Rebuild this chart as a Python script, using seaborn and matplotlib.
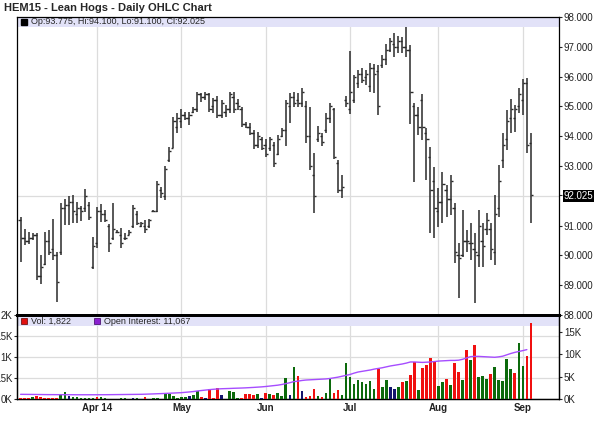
import numpy as np
import pandas as pd
import matplotlib
matplotlib.use('Agg')
import matplotlib.pyplot as plt
from matplotlib.patches import Rectangle
import seaborn as sns

# daily sessions Mar 5 - Sep 4 (128 bars)
holidays = ['2014-04-18', '2014-05-26', '2014-07-04', '2014-09-01']
dates = pd.bdate_range('2014-03-05', '2014-09-04', freq='C', holidays=holidays)

opens = [91.2, 90.6, 90.5, 90.6, 90.7, 89.3, 89.7, 90.5, 90.2, 90.0,
         90.1, 91.6, 91.7, 91.8, 91.4, 91.6, 91.6, 91.7, 89.6, 90.4,
         91.5, 91.4, 91.0, 90.6, 90.8, 90.7, 90.6, 90.7, 91.0, 91.4,
         91.0, 91.0, 91.0, 91.5, 91.5, 92.2, 92.0, 93.2, 93.6, 94.3,
         94.5, 94.7, 94.6, 94.8, 94.9, 95.4, 95.3, 95.4, 95.0, 95.2,
         94.7, 94.8, 94.9, 95.3, 95.1, 94.9, 94.4, 94.3, 94.1, 93.7,
         93.9, 93.7, 93.6, 93.7, 93.4, 94.0, 94.2, 95.0, 95.3, 95.2,
         95.1, 95.0, 94.0, 92.7, 93.9, 94.0, 94.2, 94.6, 94.9, 93.1,
         92.2, 95.2, 94.9, 95.2, 95.8, 96.1, 96.0, 95.7, 96.3, 96.2,
         96.4, 96.6, 96.9, 97.1, 97.0, 97.2, 97.0, 96.9, 95.0, 94.7,
         95.2, 94.1, 93.3, 92.5, 91.5, 91.8, 92.2, 91.9, 91.6, 90.0,
         90.0, 90.5, 90.4, 90.2, 90.0, 90.5, 90.9, 90.9, 90.1, 91.6,
         93.2, 93.9, 94.6, 94.6, 95.0, 95.2, 95.8, 93.775]
highs = [91.29, 90.89, 90.79, 90.75, 90.75, 90.01, 90.79, 90.85, 91.22, 90.10,
         91.76, 91.89, 91.99, 92.03, 91.79, 91.66, 92.23, 91.79, 90.62, 91.62,
         91.72, 91.52, 91.05, 91.76, 90.85, 90.92, 90.75, 90.85, 91.69, 91.49,
         91.12, 91.19, 91.22, 91.52, 92.50, 92.30, 93.00, 93.64, 94.64, 94.78,
         94.91, 94.81, 94.81, 94.98, 95.48, 95.45, 95.48, 95.45, 95.28, 95.35,
         95.21, 95.05, 95.48, 95.48, 95.25, 94.98, 94.48, 94.44, 94.21, 94.14,
         93.97, 93.91, 93.97, 93.81, 94.04, 94.28, 95.21, 95.45, 95.48, 95.45,
         95.62, 95.18, 94.98, 93.44, 94.34, 94.11, 94.78, 95.11, 94.95, 93.20,
         92.70, 95.35, 96.86, 96.05, 96.22, 96.29, 96.22, 96.46, 96.42, 96.39,
         96.72, 97.09, 97.30, 97.46, 97.36, 97.33, 97.66, 97.06, 95.11, 94.98,
         95.42, 94.28, 93.64, 92.97, 92.26, 92.80, 92.36, 92.70, 91.76, 90.42,
         91.52, 90.85, 91.09, 90.75, 91.52, 91.09, 91.42, 91.09, 92.03, 93.03,
         94.11, 94.88, 95.25, 95.05, 95.62, 95.92, 95.95, 94.10]
lows = [89.78, 90.35, 90.38, 90.52, 89.17, 89.04, 89.68, 90.01, 89.85, 88.44,
        90.01, 91.02, 91.02, 91.09, 91.09, 91.15, 91.46, 91.19, 89.54, 90.25,
        91.12, 91.12, 90.11, 90.52, 90.75, 90.25, 90.52, 90.68, 90.92, 91.02,
        90.95, 90.75, 90.92, 91.46, 91.46, 91.93, 91.86, 93.13, 93.60, 94.11,
        94.28, 94.54, 94.38, 94.78, 94.81, 95.15, 95.21, 94.81, 94.78, 94.61,
        94.61, 94.64, 94.78, 94.78, 94.88, 94.31, 94.28, 94.04, 93.57, 93.60,
        93.54, 93.30, 93.50, 92.97, 93.37, 93.97, 93.67, 94.44, 94.98, 94.98,
        94.98, 93.77, 92.87, 91.42, 93.81, 93.67, 94.11, 94.44, 93.23, 92.09,
        91.93, 94.98, 94.74, 95.11, 95.62, 95.79, 95.72, 95.48, 95.45, 94.71,
        96.29, 96.39, 96.83, 96.66, 96.79, 96.79, 96.66, 94.41, 92.46, 94.04,
        93.87, 92.53, 90.75, 90.58, 90.95, 91.09, 91.29, 91.36, 89.74, 88.57,
        89.95, 90.11, 89.85, 88.40, 89.61, 89.61, 90.68, 89.85, 89.68, 91.29,
        92.93, 93.54, 94.11, 94.14, 94.78, 94.71, 93.44, 91.10]
closes = [90.6, 90.5, 90.6, 90.7, 89.3, 89.6, 90.5, 90.1, 90.0, 89.1,
          91.6, 91.7, 91.8, 91.5, 91.6, 91.5, 92.0, 91.3, 90.3, 91.5,
          91.4, 91.2, 90.4, 90.9, 90.8, 90.4, 90.6, 90.8, 91.6, 91.1,
          91.1, 90.9, 91.2, 91.5, 92.4, 92.1, 92.9, 93.5, 94.5, 94.6,
          94.7, 94.6, 94.7, 94.9, 95.4, 95.3, 95.4, 94.9, 95.2, 94.7,
          95.1, 94.9, 95.4, 94.9, 95.0, 94.4, 94.3, 94.1, 93.7, 94.0,
          93.6, 93.4, 93.9, 93.1, 93.9, 94.2, 95.1, 95.3, 95.1, 95.1,
          95.5, 94.0, 93.0, 92.0, 94.1, 93.8, 94.6, 95.0, 93.3, 92.2,
          92.3, 95.1, 95.5, 96.0, 96.1, 95.9, 96.1, 96.3, 96.1, 95.0,
          96.6, 96.9, 97.2, 97.0, 97.2, 97.0, 96.9, 95.5, 94.7, 94.3,
          94.3, 93.9, 92.2, 91.6, 91.8, 92.4, 91.9, 92.5, 90.1, 89.9,
          90.5, 90.5, 90.4, 90.1, 91.0, 90.3, 91.2, 90.2, 91.4, 92.5,
          93.7, 94.5, 94.9, 94.9, 95.4, 95.8, 93.7, 92.025]

# volume in thousands, r = down, g = up, n = unchanged
vol_k = [0.2, 0.3, 0.3, 0.5, 0.6, 0.4, 0.3, 0.3, 0.3, 0.3,
         0.8, 1.6, 0.6, 0.4, 0.4, 0.3, 0.3, 0.2, 0.2, 0.4,
         0.4, 0.2, 0.0, 0.0, 0.0, 0.2, 0.2, 0.0, 0.2, 0.3,
         0.0, 0.5, 0.0, 0.2, 0.3, 0.0, 1.1, 1.1, 0.6, 0.3,
         0.5, 0.5, 0.6, 0.9, 1.8, 0.5, 0.3, 2.2, 0.3, 2.4,
         0.9, 0.0, 1.7, 1.5, 0.2, 0.3, 1.2, 1.1, 0.9, 1.2,
         0.3, 1.3, 1.2, 0.9, 1.3, 0.7, 4.6, 0.9, 7.2, 5.2,
         1.9, 0.4, 0.7, 2.2, 0.6, 0.5, 1.4, 4.8, 1.4, 2.0,
         0.8, 8.0, 5.0, 3.4, 4.3, 3.8, 3.4, 4.0, 2.2, 6.7,
         2.8, 4.3, 2.6, 2.2, 2.6, 3.9, 4.1, 5.4, 8.2, 2.0,
         6.9, 7.6, 9.1, 8.4, 3.0, 3.7, 4.5, 3.1, 8.1, 6.1,
         4.3, 11.0, 8.7, 12.2, 5.0, 5.1, 4.5, 5.6, 7.1, 4.3,
         4.0, 8.9, 6.8, 5.9, 12.5, 7.5, 9.6, 17.1]
vol_dir = ['r', 'r', 'r', 'g', 'r', 'r', 'r', 'r', 'r', 'r',
           'g', 'g', 'n', 'g', 'g', 'g', 'g', 'g', 'g', 'r',
           'g', 'g', 'g', 'g', 'g', 'g', 'g', 'g', 'n', 'g',
           'g', 'r', 'g', 'g', 'g', 'g', 'g', 'g', 'g', 'g',
           'g', 'g', 'n', 'g', 'g', 'r', 'n', 'r', 'r', 'r',
           'n', 'g', 'g', 'g', 'g', 'r', 'r', 'r', 'r', 'g',
           'n', 'r', 'g', 'r', 'g', 'g', 'g', 'n', 'g', 'r',
           'n', 'r', 'r', 'r', 'g', 'r', 'g', 'g', 'r', 'r',
           'g', 'g', 'g', 'g', 'g', 'g', 'g', 'g', 'g', 'r',
           'g', 'g', 'n', 'n', 'g', 'r', 'g', 'r', 'r', 'g',
           'r', 'r', 'r', 'r', 'g', 'g', 'r', 'g', 'r', 'r',
           'g', 'r', 'g', 'r', 'g', 'g', 'g', 'r', 'g', 'g',
           'g', 'g', 'g', 'r', 'g', 'g', 'r', 'r']

oi_k = [1.05, 1.04, 1.03, 1.02, 1.01, 1.00, 0.99, 0.98, 0.98, 0.97,
        0.97, 0.96, 0.96, 0.96, 0.95, 0.95, 0.95, 0.95, 0.95, 0.95,
        0.96, 0.96, 0.97, 0.98, 0.99, 1.00, 1.01, 1.02, 1.03, 1.04,
        1.05, 1.08, 1.11, 1.14, 1.18, 1.21, 1.25, 1.29, 1.33, 1.38,
        1.42, 1.50, 1.58, 1.67, 1.80, 1.90, 2.00, 2.10, 2.18, 2.25,
        2.30, 2.33, 2.36, 2.40, 2.43, 2.46, 2.50, 2.55, 2.60, 2.66,
        2.72, 2.80, 2.90, 3.00, 3.10, 3.25, 3.45, 3.65, 3.90, 4.00,
        4.15, 4.25, 4.30, 4.35, 4.40, 4.45, 4.50, 4.60, 4.75, 4.90,
        5.10, 5.30, 5.50, 5.80, 6.05, 6.20, 6.35, 6.50, 6.70, 6.85,
        7.00, 7.20, 7.40, 7.55, 7.70, 7.85, 8.05, 8.30, 8.30, 8.25,
        8.20, 8.25, 8.30, 8.40, 8.50, 8.55, 8.60, 8.65, 8.65, 8.70,
        8.90, 9.20, 9.50, 9.55, 9.55, 9.50, 9.45, 9.40, 9.35, 9.45,
        9.60, 9.90, 10.20, 10.45, 10.65, 10.85, 11.07]

price_ticks = [88, 89, 90, 91, 92.025, 93, 94, 95, 96, 97, 98]
vol_right_ticks = [0, 5, 10, 15]
vol_left_ticks = [0, 0.5, 1, 1.5, 2]
vol_left_labels = ['0K', '.5K', '1K', '.5K', '2K']

df = pd.DataFrame({'date': dates, 'open': opens, 'high': highs, 'low': lows,
                   'close': closes, 'vol': np.array(vol_k) * 1000, 'dir': vol_dir})
df['i'] = np.arange(len(df))

sns.set_style('white')
plt.rcParams['font.family'] = ['Liberation Sans', 'DejaVu Sans']

fig = plt.figure(figsize=(5.94, 4.34), dpi=100)
W, H = 594, 434
ax = fig.add_axes([17 / W, 119 / H, 542 / W, 298 / H])
axv = fig.add_axes([17 / W, 35 / H, 542 / W, 84 / H], sharex=ax)
axv2 = axv.twinx()

grid_c = '#dcdcdc'
bar_c = '#2a2a2a'

# OHLC bars
ax.vlines(df['i'], df['low'], df['high'], color=bar_c, lw=1.1, zorder=3)
ax.hlines(df['open'], df['i'] - 0.55, df['i'], color=bar_c, lw=1.0, zorder=3)
ax.hlines(df['close'], df['i'], df['i'] + 0.55, color=bar_c, lw=1.0, zorder=3)

ax.set_ylim(88, 98)
ax.yaxis.tick_right()
ax.set_yticks(price_ticks, labels=[f'{t:.3f}' for t in price_ticks])
ax.set_yticks(np.arange(88, 99), minor=True)
ax.grid(which='minor', axis='y', color=grid_c, lw=0.9)
ax.grid(which='major', axis='x', color=grid_c, lw=0.9)
ax.tick_params(axis='y', which='major', length=2.5, width=0.8, pad=1, labelsize=7,
               labelcolor='#222222', right=True, left=False)
ax.tick_params(axis='y', which='minor', length=0)
ax.tick_params(axis='x', length=0, labelbottom=False)
for lbl in ax.get_yticklabels():
    if lbl.get_text() == '92.025':
        lbl.set_color('white')
        lbl.set_bbox(dict(facecolor='black', edgecolor='none', pad=0.8))
ax.add_patch(Rectangle((0, 1 - 10 / 298), 1, 10 / 298, transform=ax.transAxes,
                       facecolor='#e2e2f8', edgecolor='none', zorder=1))
ax.plot([7 / 542], [1 - 5 / 298], marker='s', ms=4.5, color='black',
        transform=ax.transAxes, zorder=4, clip_on=False)
ax.text(14 / 542, 1 - 5 / 298, 'Op:93.775, Hi:94.100, Lo:91.100, Cl:92.025',
        transform=ax.transAxes, fontsize=6.5, va='center', ha='left', zorder=4)
for s in ax.spines.values():
    s.set_color('black')
    s.set_linewidth(0.9)
ax.spines['bottom'].set_linewidth(2)

# volume panel
palette = {'r': '#f01010', 'g': '#0c6a0c', 'n': '#14146e'}
axv2.bar(df['i'], df['vol'], width=0.65, color=df['dir'].map(palette),
         edgecolor='none', linewidth=0, zorder=3)
sns.lineplot(x=np.arange(len(oi_k)), y=np.array(oi_k) * 1000, color='#a64dff',
             lw=1.0, ax=axv2, zorder=4)
axv2.set(xlabel='', ylabel='')
axv2.set_ylim(0, 18830)
axv2.set_yticks([t * 1000 for t in vol_right_ticks], labels=[f'{t}K' for t in vol_right_ticks])
axv2.tick_params(axis='y', length=2.5, width=0.8, pad=1, labelsize=7, labelcolor='#222222')

axv.set_ylim(0, 2000)
axv.set_yticks([t * 1000 for t in vol_left_ticks], labels=vol_left_labels)
axv.tick_params(axis='y', length=2.5, width=0.8, pad=1, labelsize=7, labelcolor='#222222')
axv.grid(axis='y', color=grid_c, lw=0.9)
axv.grid(axis='x', color=grid_c, lw=0.9)
axv.add_patch(Rectangle((0, 1 - 11 / 84), 1, 10 / 84, transform=axv.transAxes,
                        facecolor='#e2e2f8', edgecolor='none', zorder=1))
axv2.plot([7 / 542], [1 - 6 / 84], marker='s', ms=4.5, color='#e01010', mec='#600000',
          mew=0.5, transform=axv2.transAxes, zorder=5, clip_on=False)
axv2.text(14 / 542, 1 - 6 / 84, 'Vol: 1,822', transform=axv2.transAxes,
          fontsize=6.5, va='center', ha='left', zorder=5)
axv2.plot([80 / 542], [1 - 6 / 84], marker='s', ms=4.5, color='#8a1fd0', mec='#3a0060',
          mew=0.5, transform=axv2.transAxes, zorder=5, clip_on=False)
axv2.text(87 / 542, 1 - 6 / 84, 'Open Interest: 11,067', transform=axv2.transAxes,
          fontsize=6.5, va='center', ha='left', zorder=5)
for a in (axv, axv2):
    for s in a.spines.values():
        s.set_color('black')
        s.set_linewidth(0.9)
    a.spines['top'].set_linewidth(2)

# month labels
first = df.groupby(df['date'].dt.to_period('M'))['i'].first().iloc[1:]
month_labels = [d.strftime('%b') for d in df.loc[first.values, 'date']]
month_labels[0] = 'Apr 14'
axv.set_xticks(first.values, labels=month_labels)
axv.tick_params(axis='x', length=0, pad=3, labelsize=7, labelcolor='#222222')
for lbl in axv.get_xticklabels():
    lbl.set_fontweight('bold')

ax.set_xlim(-0.9, 134)

fig.text(4 / W, 1 - 8 / H, 'HEM15 - Lean Hogs - Daily OHLC Chart', fontsize=8,
         fontweight='bold', va='center', ha='left')

fig.savefig('out.png', dpi=100, facecolor='white')
